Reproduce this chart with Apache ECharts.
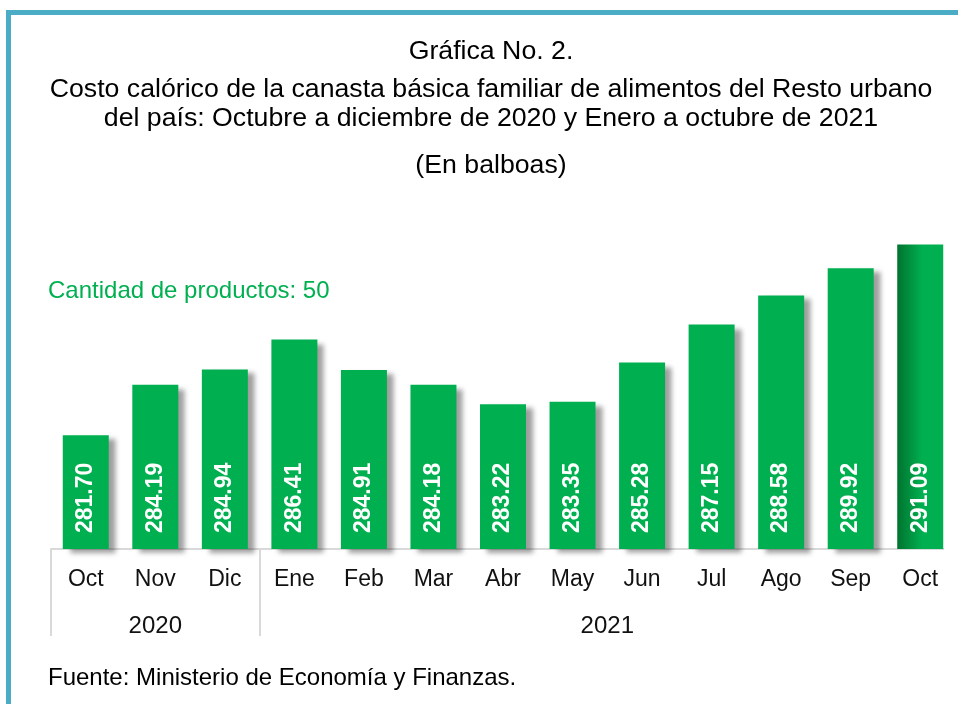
<!DOCTYPE html>
<html>
<head>
<meta charset="utf-8">
<script src="https://cdn.jsdelivr.net/npm/echarts@6/dist/echarts.min.js"></script>
<style>
html,body{margin:0;padding:0;background:#fff;}
#chart{width:958px;height:704px;}
</style>
</head>
<body>
<div id="chart"></div>
<script>
const months = ['Oct','Nov','Dic','Ene','Feb','Mar','Abr','May','Jun','Jul','Ago','Sep','Oct'];
const values = [281.70,284.19,284.94,286.41,284.91,284.18,283.22,283.35,285.28,287.15,288.58,289.92,291.09];
const years = ['2020','2021'];
const yearSpans = [3,10];

const FONT = '"Liberation Sans", Arial, sans-serif';
const GREEN = '#00B050';

// year label centers in category units
const yearCenters = [];
let acc = 0;
yearSpans.forEach(s => { yearCenters.push(acc + s / 2); acc += s; });
const yearBounds = [0];
acc = 0;
yearSpans.forEach((s, i) => { acc += s; if (i < yearSpans.length - 1) yearBounds.push(acc); });

const barData = values.map((v, i) => {
  if (i === values.length - 1) {
    return {
      value: v,
      itemStyle: {
        color: {
          type: 'linear', x: 0, y: 0, x2: 1, y2: 0,
          colorStops: [
            { offset: 0, color: '#00732F' },
            { offset: 0.55, color: '#00B050' },
            { offset: 1, color: '#00B050' }
          ]
        },
        shadowColor: 'rgba(0,0,0,0)'
      }
    };
  }
  return v;
});

const TX = 486;
const TFS = 26.7;
const chart = echarts.init(document.getElementById('chart'), null, { renderer: 'canvas' });
chart.setOption({
  backgroundColor: '#ffffff',
  animation: false,
  title: [
    { text: 'Gráfica No. 2.', left: TX, textAlign: 'center', top: 32,
      textStyle: { fontFamily: FONT, fontSize: TFS, fontWeight: 'normal', color: '#000', lineHeight: 30 } },
    { text: 'Costo calórico de la canasta básica familiar de alimentos del Resto urbano\ndel país: Octubre a diciembre de 2020 y Enero a octubre de 2021',
      left: TX, top: 70, textAlign: 'center',
      textStyle: { fontFamily: FONT, fontSize: TFS, fontWeight: 'normal', color: '#000', lineHeight: 29 } },
    { text: '(En balboas)', left: TX, textAlign: 'center', top: 146,
      textStyle: { fontFamily: FONT, fontSize: TFS, fontWeight: 'normal', color: '#000', lineHeight: 30 } },
    { text: 'Cantidad de productos: 50', left: 43, top: 271,
      textStyle: { fontFamily: FONT, fontSize: 24, fontWeight: 'normal', color: GREEN, lineHeight: 30 } },
    { text: 'Fuente: Ministerio de Economía y Finanzas.', left: 43, top: 658,
      textStyle: { fontFamily: FONT, fontSize: 24, fontWeight: 'normal', color: '#000', lineHeight: 30 } }
  ],
  graphic: [
    { type: 'rect', shape: { x: 6, y: 10, width: 952, height: 5 }, style: { fill: '#4BACC6' }, silent: true, z: 100 },
    { type: 'rect', shape: { x: 6, y: 10, width: 5, height: 694 }, style: { fill: '#4BACC6' }, silent: true, z: 100 },
    { type: 'rect', shape: { x: 944, y: 547, width: 14, height: 157 }, style: { fill: '#ffffff' }, silent: true, z: 50 }
  ],
  grid: { left: 51, right: 3, top: 226, bottom: 155, containLabel: false },
  xAxis: [
    {
      type: 'category',
      data: months,
      boundaryGap: true,
      axisLine: { show: true, lineStyle: { color: '#D9D9D9', width: 2 } },
      axisTick: {
        show: true,
        length: 87,
        interval: (i) => yearBounds.indexOf(i) !== -1,
        lineStyle: { color: '#D9D9D9', width: 2 }
      },
      axisLabel: { fontFamily: FONT, fontSize: 23, color: '#111', margin: 19, interval: 0 },
      splitLine: { show: false }
    },
    {
      type: 'value',
      position: 'bottom',
      min: 0,
      max: months.length,
      axisLine: { show: false },
      axisTick: { show: false },
      splitLine: { show: false },
      axisLabel: {
        customValues: yearCenters,
        formatter: (v) => years[yearCenters.indexOf(v)] || '',
        fontFamily: FONT, fontSize: 24, color: '#111', margin: 65
      }
    }
  ],
  yAxis: {
    type: 'value',
    min: 276.1,
    max: 292,
    show: false,
    splitLine: { show: false }
  },
  series: [{
    type: 'bar',
    xAxisIndex: 0,
    data: barData,
    barWidth: 46,
    itemStyle: {
      color: GREEN,
      shadowColor: 'rgba(0,0,0,0.38)',
      shadowBlur: 5,
      shadowOffsetX: 7,
      shadowOffsetY: 4
    },
    label: {
      show: true,
      position: 'insideBottom',
      rotate: 90,
      align: 'left',
      verticalAlign: 'middle',
      distance: 16,
      formatter: (p) => p.value.toFixed(2),
      fontFamily: FONT,
      fontSize: 23,
      fontWeight: 'bold',
      color: '#fff'
    }
  }]
});
</script>
</body>
</html>
